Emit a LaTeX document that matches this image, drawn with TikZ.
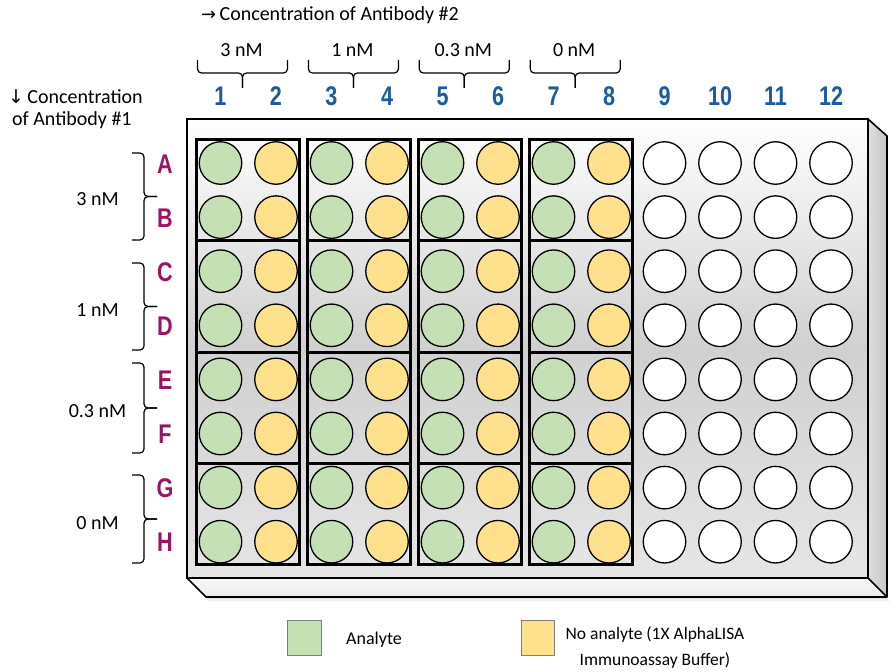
\documentclass[tikz,border=0pt]{standalone}
\usepackage{fontspec}
\setmainfont{Carlito}
\newfontfamily\numfont[FakeStretch=0.8]{Liberation Sans}
\newfontfamily\arrowfont{DejaVu Sans}
\definecolor{wellgreen}{RGB}{197,224,180}
\definecolor{wellyellow}{RGB}{255,224,140}
\definecolor{numblue}{RGB}{28,90,162}
\definecolor{rowmag}{RGB}{155,20,100}
\definecolor{facemid}{RGB}{208,208,208}
\definecolor{facebot}{RGB}{230,230,230}
\begin{document}
\begin{tikzpicture}[x=1pt,y=-1pt,
  well/.style={circle, draw=black, line width=1.3pt, minimum size=42.5pt, inner sep=0pt},
  groupbox/.style={draw=black, line width=3pt},
  bracket/.style={draw=black, line width=1.2pt, rounded corners=4pt},
  numlab/.style={font=\numfont\bfseries\fontsize{27}{30}\selectfont, text=numblue, inner sep=0pt},
  rowlab/.style={font=\numfont\bfseries\fontsize{27}{30}\selectfont, text=rowmag, inner sep=0pt},
  conclab/.style={font=\fontsize{20}{22}\selectfont, inner sep=0pt},
  legtext/.style={font=\fontsize{18}{26}\selectfont, inner sep=0pt, align=center},
  legbox/.style={draw=gray, line width=0.8pt}
]
\useasboundingbox (0,0) rectangle (890,671);

% ---- plate ----
\fill[black, opacity=0.06] (190,582) -- (871,582) -- (890,601) -- (209,601) -- cycle;
\fill[black, opacity=0.06] (189,580) -- (870,580) -- (889,599) -- (208,599) -- cycle;
\shade[top color=white, bottom color=facebot, middle color=facemid] (187,119) rectangle (868,578);
\shade[left color=gray!25, right color=gray!45] (868,119) -- (887,136) -- (887,597) -- (868,578) -- cycle;
\shade[top color=gray!5, bottom color=gray!15] (187,578) -- (868,578) -- (887,597) -- (206,597) -- cycle;
\draw[line width=1.6pt, line join=round] (868,119) -- (887,136) -- (887,597) -- (868,578);
\draw[line width=1.6pt, line join=round] (187,578) -- (206,597) -- (887,597);
\draw[line width=1.8pt] (187,119) rectangle (868,578);

% ---- wells ----
\foreach \L [count=\r from 0] in {A,B,C,D,E,F,G,H} {
  \foreach \c in {1,...,12} {
    \pgfmathsetmacro{\xx}{220.5+55.5*(\c-1)}
    \pgfmathsetmacro{\yy}{163+54.1*\r}
    \ifnum\c>8 \def\fc{white}\else\ifodd\c\def\fc{wellgreen}\else\def\fc{wellyellow}\fi\fi
    \node[well, fill=\fc] (w\L\c) at (\xx,\yy) {};
  }
}

% ---- group boxes ----
\foreach \g in {1,2,3,4} {
  \pgfmathsetmacro{\bl}{196.5+111*(\g-1)}
  \pgfmathsetmacro{\br}{\bl+102.5}
  \draw[groupbox] (\bl,140) rectangle (\br,240.5);
  \draw[groupbox] (\bl,240.5) rectangle (\br,352);
  \draw[groupbox] (\bl,352) rectangle (\br,463);
  \draw[groupbox] (\bl,463) rectangle (\br,564);
}

% ---- column numbers ----
\foreach \c in {1,...,12} {
  \pgfmathsetmacro{\xx}{220.5+55.5*(\c-1)}
  \node[numlab] (col\c) at (\xx,96) {\c};
}

% ---- row letters ----
\foreach \L [count=\r from 0] in {A,B,C,D,E,F,G,H} {
  \pgfmathsetmacro{\yy}{164+54.1*\r}
  \node[rowlab] (row\L) at (165,\yy) {\L};
}

% ---- top braces and labels ----
\foreach \g/\t in {1/3 nM,2/1 nM,3/0.3 nM,4/0 nM} {
  \pgfmathsetmacro{\cx}{242.5+110.9*(\g-1)}
  \pgfmathsetmacro{\lx}{\cx-45}
  \pgfmathsetmacro{\rx}{\cx+45}
  \draw[bracket] (\lx,60) -- (\lx,73) -- (\cx,73) -- (\cx,88);
  \draw[bracket] (\rx,60) -- (\rx,73) -- (\cx,73) -- (\cx,88);
  \node[conclab] (topc\g) at (\cx-1,50) {\t};
}

% ---- left braces and labels ----
\foreach \g/\yc/\h/\ty/\t in {1/196.5/43.5/199/3 nM,2/306.5/43.5/310/1 nM,3/408/45/411/0.3 nM,4/519/44/523/0 nM} {
  \pgfmathsetmacro{\ya}{\yc-\h}
  \pgfmathsetmacro{\yb}{\yc+\h}
  \draw[bracket] (132,\ya) -- (144,\ya) -- (144,\yc) -- (157,\yc);
  \draw[bracket] (132,\yb) -- (144,\yb) -- (144,\yc) -- (157,\yc);
  \node[conclab] (leftc\g) at (97.5,\ty) {\t};
}

% ---- axis titles ----
\node[conclab, anchor=west] (title2) at (201,15) {{\arrowfont\fontsize{18}{20}\selectfont →}\,Concentration of Antibody \#2};
\node[conclab, anchor=west] (title1a) at (8,97) {{\arrowfont\fontsize{19}{20}\selectfont ↓}\,Concentration};
\node[conclab, anchor=west] (title1b) at (12,120) {of Antibody \#1};

% ---- legend ----
\draw[legbox, fill=wellgreen] (287,620) rectangle (321,655);
\node[legtext] (legA) at (374,640) {Analyte};
\draw[legbox, fill=wellyellow] (521,620) rectangle (554,655);
\node[legtext, font=\fontsize{17.5}{26}\selectfont] (legB) at (655,648) {No analyte (1X AlphaLISA\\Immunoassay Buffer)};
\end{tikzpicture}
\end{document}
